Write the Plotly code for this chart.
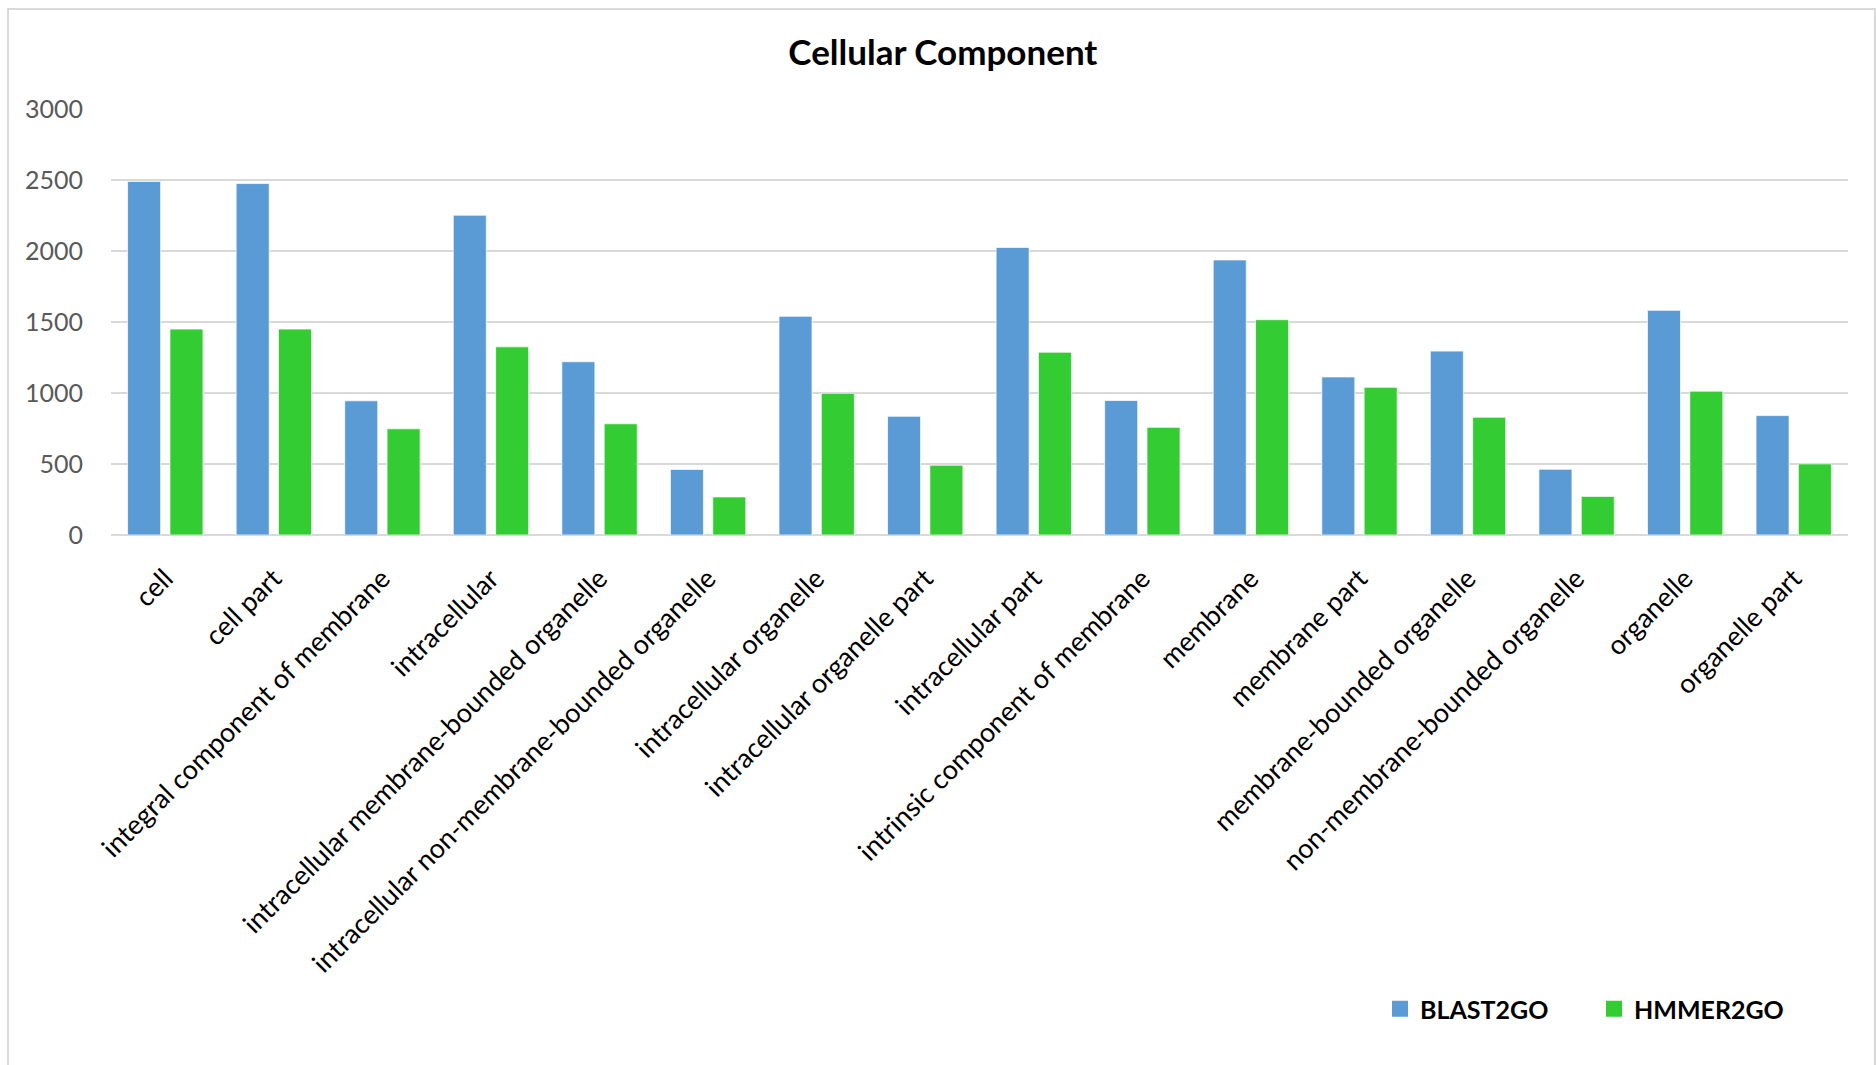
import plotly.graph_objects as go

# GO cellular-component term counts per annotation pipeline
categories = [
    "cell", "cell part", "integral component of membrane", "intracellular",
    "intracellular membrane-bounded organelle",
    "intracellular non-membrane-bounded organelle",
    "intracellular organelle", "intracellular organelle part",
    "intracellular part", "intrinsic component of membrane", "membrane",
    "membrane part", "membrane-bounded organelle",
    "non-membrane-bounded organelle", "organelle", "organelle part",
]
blast2go = [2490, 2475, 945, 2252, 1220, 462, 1540, 836, 2025, 947,
            1937, 1113, 1295, 463, 1582, 841]
hmmer2go = [1450, 1450, 748, 1325, 783, 268, 998, 491, 1287, 758,
            1516, 1040, 829, 272, 1013, 501]
series_names = ["BLAST2GO", "HMMER2GO"]
y_ticks = [0, 500, 1000, 1500, 2000, 2500, 3000]

BLUE = "#5B9BD5"
GREEN = "#33CC33"
FONT = "Lato"

W, H = 1876, 1065
L, R, T, B = 111, 28, 109, 530
PW, PH = W - L - R, H - T - B


def px_x(x):
    return (x - L) / PW


def px_y(y):
    return (H - B - y) / PH


fig = go.Figure()
for name, vals, col in [(series_names[0], blast2go, BLUE),
                        (series_names[1], hmmer2go, GREEN)]:
    fig.add_trace(go.Bar(
        x=categories, y=vals, name=name, showlegend=False,
        marker=dict(color=col, line=dict(color="rgba(255,255,255,0.7)", width=1)),
    ))

# legend entries drawn as square markers
for name, col, leg in [(series_names[0], BLUE, "legend"),
                       (series_names[1], GREEN, "legend2")]:
    fig.add_trace(go.Scatter(
        x=[None], y=[None], mode="markers", name=name, legend=leg,
        marker=dict(symbol="square", size=17, color=col),
    ))

legend_style = dict(
    orientation="h", yanchor="middle", xanchor="left",
    font=dict(family=FONT, size=25, color="#000000", weight="bold"),
    bgcolor="rgba(0,0,0,0)", itemsizing="trace",
)

fig.update_layout(
    width=W, height=H,
    margin=dict(l=L, r=R, t=T, b=B, autoexpand=False),
    paper_bgcolor="white", plot_bgcolor="white",
    barmode="group", bargap=0.22, bargroupgap=0.22,
    title=dict(text="<b>Cellular Component</b>", x=0.5026, xref="container",
               y=1 - 52.6 / H, yref="container", xanchor="center", yanchor="middle",
               font=dict(family=FONT, size=35, color="#000000")),
    legend=dict(x=px_x(1380), y=px_y(1009), **legend_style),
    legend2=dict(x=px_x(1594), y=px_y(1009), **legend_style),
    xaxis=dict(
        type="category", tickangle=-45, showgrid=False, showline=False,
        ticks="outside", ticklen=16, tickcolor="rgba(0,0,0,0)",
        tickfont=dict(family=FONT, size=27, color="#000000"),
    ),
    yaxis=dict(
        range=[0, 3000], tickvals=y_ticks, showgrid=True,
        gridcolor="#D9D9D9", gridwidth=2, zeroline=True,
        zerolinecolor="#D9D9D9", zerolinewidth=2, showline=False,
        ticks="outside", ticklen=22, tickcolor="rgba(0,0,0,0)",
        tickfont=dict(family=FONT, size=25, color="#595959"),
    ),
    shapes=[dict(
        type="rect", xref="paper", yref="paper",
        x0=px_x(8), x1=px_x(1875), y0=px_y(1070), y1=px_y(9),
        line=dict(color="#D9D9D9", width=2), fillcolor="rgba(0,0,0,0)",
        layer="below",
    )],
)

fig.write_html("out.html")
